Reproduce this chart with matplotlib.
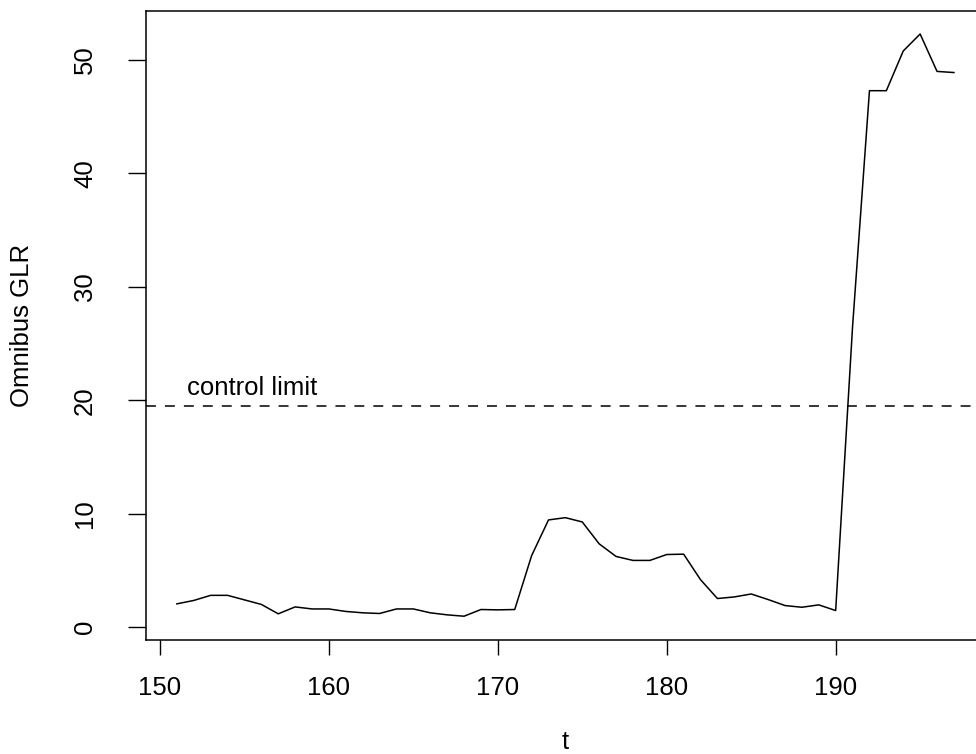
import numpy as np
import matplotlib
matplotlib.use('Agg')
import matplotlib.pyplot as plt

plt.rcParams['font.family'] = ['Liberation Sans', 'DejaVu Sans']

# data
t = list(range(151, 198))
glr = [2.05, 2.35, 2.8, 2.8, 2.4, 2.0, 1.17, 1.78, 1.6, 1.6,
       1.38, 1.26, 1.2, 1.6, 1.6, 1.26, 1.08, 0.96, 1.55, 1.52,
       1.55, 6.3, 9.45, 9.65, 9.27, 7.34, 6.23, 5.88, 5.88, 6.4,
       6.43, 4.18, 2.52, 2.66, 2.92, 2.43, 1.9, 1.75, 1.96, 1.46,
       26.5, 47.3, 47.3, 50.8, 52.3, 49.0, 48.9]
control_limit = 19.5
xticks = [150, 160, 170, 180, 190]
yticks = [0, 10, 20, 30, 40, 50]

W, H = 976, 754
fig = plt.figure(figsize=(W / 100, H / 100), dpi=100)

# plot box in pixels (right edge runs past the picture, as in the reference)
left, right, top, bottom = 145.8, 985.0, 10.7, 639.5
ax = fig.add_axes([left / W, 1 - bottom / H, (right - left) / W, (bottom - top) / H])

ax.plot(t, glr, color='black', lw=1.1)
ax.axhline(control_limit, color='black', lw=1.1, dashes=(6.5, 5.9))
ax.text(151.6, control_limit + 0.55, 'control limit', fontsize=18.5,
        ha='left', va='bottom')

# R style extension of the ranges
xr = max(t) - min(t)
yr = max(glr) - min(glr)
ax.set_xlim(min(t) - 0.04 * xr, max(t) + 0.04 * xr)
ax.set_ylim(min(glr) - 0.04 * yr, max(glr) + 0.04 * yr)

ax.set_xticks(xticks)
ax.set_yticks(yticks)
ax.tick_params(axis='x', length=10.8, width=1.0, pad=15.5, labelsize=18.5, direction='out')
ax.tick_params(axis='y', length=13, width=1.0, pad=22, labelsize=18.5, direction='out')
for lab in ax.get_yticklabels():
    lab.set_rotation(90)
    lab.set_va('center')
for sp in ax.spines.values():
    sp.set_linewidth(1.1)

fig.text(22 / W, 1 - 325 / H, 'Omnibus GLR', rotation=90, fontsize=18.5,
         ha='center', va='center')
fig.text(565 / W, 1 - 742 / H, 't', fontsize=18.5, ha='center', va='center')

fig.savefig('out.png', dpi=100)
